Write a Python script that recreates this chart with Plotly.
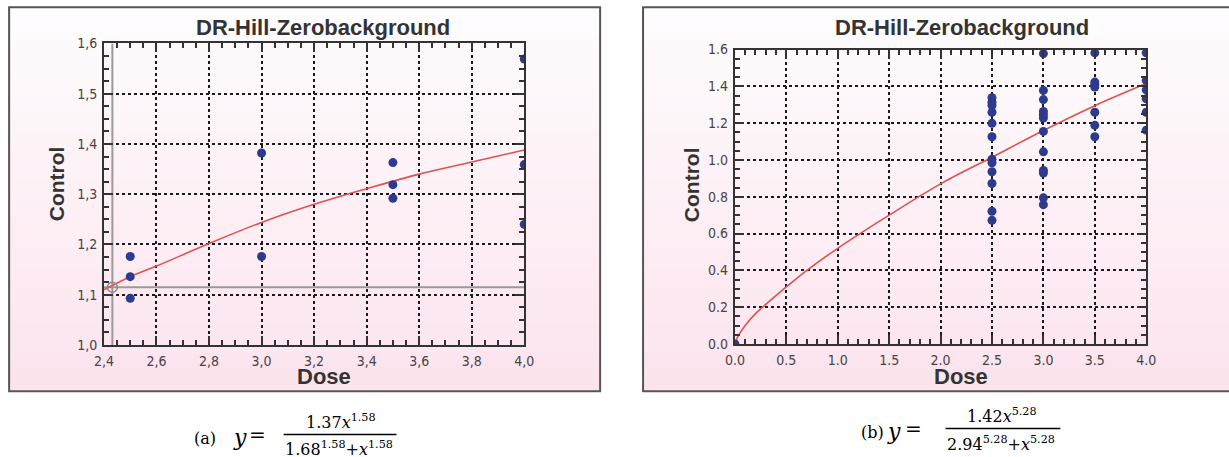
import plotly.graph_objects as go

# The photographed page region is a little larger than the window and is shrunk
# to 1229x457; positions below are given in final-picture pixels and mapped back.
PIC_W, PIC_H = 1229, 457
SX, SY = 0.9855, 0.961        # picture px per page px (measured)
BODY = 8                      # default body margin of the page
W = round(PIC_W / SX) - BODY  # figure size in page px
H = round(PIC_H / SY) - BODY
FS = 1 / 0.973                # font compensation

# ---------------- data ----------------
TITLE = "DR-Hill-Zerobackground"
X_LABEL = "Dose"
Y_LABEL = "Control"

# panel (a)
a_dose = [2.5, 2.5, 2.5, 3.0, 3.0, 3.5, 3.5, 3.5, 4.0, 4.0, 4.0]
a_control = [1.176, 1.136, 1.093, 1.382, 1.176, 1.363, 1.319, 1.292, 1.569, 1.359, 1.240]
a_fit_dose = [2.40, 2.50, 2.60, 2.80, 3.00, 3.20, 3.40, 3.60, 3.80, 4.00]
a_fit_control = [1.110, 1.136, 1.157, 1.202, 1.244, 1.280, 1.311, 1.340, 1.364, 1.388]
a_ref_dose = 2.432
a_ref_control = 1.115
a_xticks = [2.4, 2.6, 2.8, 3.0, 3.2, 3.4, 3.6, 3.8, 4.0]
a_xticktext = ["2,4", "2,6", "2,8", "3,0", "3,2", "3,4", "3,6", "3,8", "4,0"]
a_yticks = [1.0, 1.1, 1.2, 1.3, 1.4, 1.5, 1.6]
a_yticktext = ["1,0", "1,1", "1,2", "1,3", "1,4", "1,5", "1,6"]

# panel (b)
b_dose = ([0.0]
          + [2.5] * 12
          + [3.0] * 12
          + [3.5] * 7
          + [4.0] * 6)
b_control = ([0.0]
             + [1.338, 1.314, 1.296, 1.259, 1.199, 1.126, 1.004, 0.985, 0.936, 0.872, 0.721, 0.672]
             + [1.578, 1.378, 1.328, 1.263, 1.246, 1.228, 1.155, 1.044, 0.943, 0.929, 0.794, 0.757]
             + [1.582, 1.423, 1.409, 1.396, 1.259, 1.188, 1.126]
             + [1.582, 1.432, 1.381, 1.332, 1.259, 1.162])
b_fit_dose = [0.0, 0.02, 0.05, 0.10, 0.20, 0.30, 0.50, 0.70, 1.00, 1.50, 2.00, 2.50,
              3.00, 3.50, 4.00]
b_fit_control = [0.0, 0.03, 0.06, 0.10, 0.165, 0.215, 0.31, 0.40, 0.52, 0.70, 0.87, 1.015,
                 1.16, 1.295, 1.415]
b_xticks = [0.0, 0.5, 1.0, 1.5, 2.0, 2.5, 3.0, 3.5, 4.0]
b_xticktext = ["0.0", "0.5", "1.0", "1.5", "2.0", "2.5", "3.0", "3.5", "4.0"]
b_yticks = [0.0, 0.2, 0.4, 0.6, 0.8, 1.0, 1.2, 1.4, 1.6]
b_yticktext = ["0.0", "0.2", "0.4", "0.6", "0.8", "1.0", "1.2", "1.4", "1.6"]

# ---------------- styling ----------------
PT_COLOR = "#2c3a8f"
FIT_COLOR = "#e2504f"
TICK_FONT = dict(family="Liberation Sans Narrow, DejaVu Sans Condensed, Arial Narrow, sans-serif",
                 size=round(14 * FS), color="#444")
BOLD_FONT = "Liberation Sans, Arial, sans-serif"
SERIF = "DejaVu Serif, Liberation Serif, serif"


def px(x):
    """picture pixel x -> paper fraction"""
    return (x / SX - BODY) / W


def py(y):
    """picture pixel y (from top) -> paper fraction"""
    return 1 - (y / SY - BODY) / H


fig = go.Figure()

# panel (a) traces
fig.add_trace(go.Scatter(x=[a_ref_dose, a_ref_dose], y=[1.0, 1.6], mode="lines",
                         line=dict(color="#9a9a9a", width=2), xaxis="x", yaxis="y",
                         showlegend=False, hoverinfo="skip"))
fig.add_trace(go.Scatter(x=[2.4, 4.0], y=[a_ref_control, a_ref_control], mode="lines",
                         line=dict(color="#9a9a9a", width=2), xaxis="x", yaxis="y",
                         showlegend=False, hoverinfo="skip"))
fig.add_trace(go.Scatter(x=a_fit_dose, y=a_fit_control, mode="lines", line_shape="spline",
                         line=dict(color=FIT_COLOR, width=1.6), xaxis="x", yaxis="y",
                         showlegend=False))
fig.add_trace(go.Scatter(x=[a_ref_dose], y=[a_ref_control], mode="markers",
                         marker=dict(symbol="circle-open", size=10, color="#8a8a8a",
                                     line=dict(width=1.5)),
                         xaxis="x", yaxis="y", showlegend=False))
fig.add_trace(go.Scatter(x=a_dose, y=a_control, mode="markers",
                         marker=dict(color=PT_COLOR, size=9), xaxis="x", yaxis="y",
                         showlegend=False))

# panel (b) traces
fig.add_trace(go.Scatter(x=b_fit_dose, y=b_fit_control, mode="lines", line_shape="spline",
                         line=dict(color=FIT_COLOR, width=1.6, smoothing=1.0),
                         xaxis="x2", yaxis="y2", showlegend=False))
fig.add_trace(go.Scatter(x=b_dose, y=b_control, mode="markers",
                         marker=dict(color=PT_COLOR, size=9), xaxis="x2", yaxis="y2",
                         showlegend=False))

common = dict(showline=True, linecolor="#333", linewidth=2, mirror="ticks",
              ticks="inside", ticklen=9, tickwidth=1.5, tickcolor="#333",
              showgrid=True, gridcolor="#1a1a1a", griddash="dot", gridwidth=1.5,
              zeroline=False, tickfont=TICK_FONT, tickmode="array",
              ticklabelstandoff=2)


def minor(t0, dt):
    return dict(ticks="inside", ticklen=5, tickwidth=1.5, tickcolor="#333",
                tickmode="linear", tick0=t0, dtick=dt, showgrid=False)


fig.update_layout(
    width=W, height=H, margin=dict(l=0, r=0, t=0, b=0),
    paper_bgcolor="white", plot_bgcolor="rgba(0,0,0,0)",
    showlegend=False,
    xaxis=dict(domain=[px(102), px(523)], range=[2.4, 4.0], anchor="y",
               tickvals=a_xticks, ticktext=a_xticktext, minor=minor(2.4, 0.05), **common),
    yaxis=dict(domain=[py(343), py(43)], range=[1.0, 1.6], anchor="x",
               tickvals=a_yticks, ticktext=a_yticktext, minor=minor(1.0, 0.025), **common),
    xaxis2=dict(domain=[px(734), px(1146)], range=[0, 4.0], anchor="y2",
                tickvals=b_xticks, ticktext=b_xticktext, minor=minor(0, 0.1), **common),
    yaxis2=dict(domain=[py(342), py(49)], range=[0, 1.6], anchor="x2",
                tickvals=b_yticks, ticktext=b_yticktext, minor=minor(0, 0.05), **common),
)

# ---------------- panel backgrounds (vertical gradient) and frames ----------------
shapes = []
top_rgb = (254, 253, 254)
bot_rgb = (252, 227, 237)
frames = [(7, 599), (642, 1240)]
y_top, y_bot = 7, 389
N = 40
for (x0, x1) in frames:
    for i in range(N):
        t = i / (N - 1)
        c = tuple(round(top_rgb[k] + (bot_rgb[k] - top_rgb[k]) * t) for k in range(3))
        ya = y_top + (y_bot - y_top) * i / N
        yb = y_top + (y_bot - y_top) * (i + 1) / N + 0.5
        shapes.append(dict(type="rect", xref="paper", yref="paper", layer="below",
                           x0=px(x0), x1=min(px(x1), 1.0), y0=py(ya), y1=py(yb),
                           fillcolor="rgb(%d,%d,%d)" % c, line=dict(width=0)))
    shapes.append(dict(type="rect", xref="paper", yref="paper", layer="below",
                       x0=px(x0), x1=px(x1), y0=py(y_top), y1=py(y_bot),
                       fillcolor="rgba(0,0,0,0)", line=dict(color="#555", width=2)))

# fraction bars of the captions
shapes.append(dict(type="line", xref="paper", yref="paper", x0=px(282), x1=px(395),
                   y0=py(432), y1=py(432), line=dict(color="black", width=1.5)))
shapes.append(dict(type="line", xref="paper", yref="paper", x0=px(945), x1=px(1060),
                   y0=py(426), y1=py(426), line=dict(color="black", width=1.5)))
fig.update_layout(shapes=shapes)

# ---------------- text ----------------
ann = []


def add_text(text, x, y, size, family, color="#333", angle=0, xanchor="center"):
    ann.append(dict(text=text, x=px(x), y=py(y), xref="paper", yref="paper",
                    showarrow=False, xanchor=xanchor, yanchor="middle", textangle=angle,
                    font=dict(family=family, size=round(size * FS), color=color)))


for cx, lx, dx in [(321, 54, 322), (961, 690, 960)]:
    add_text("<b>%s</b>" % TITLE, cx, 27, 21, BOLD_FONT)
    add_text("<b>%s</b>" % Y_LABEL, lx, 183, 20, BOLD_FONT, angle=-90)
    add_text("<b>%s</b>" % X_LABEL, dx, 374, 21, BOLD_FONT)

# caption (a)
add_text("(a)", 203, 436, 16, SERIF, color="black")
add_text("<i>y</i>", 238, 435, 21, SERIF, color="black")
add_text("=", 256, 433, 19, SERIF, color="black")
add_text("1.37<i>x</i><sup>1.58</sup>", 339, 419, 16, SERIF, color="black")
add_text("1.68<sup>1.58</sup>+<i>x</i><sup>1.58</sup>", 337, 446, 16, SERIF, color="black")
# caption (b)
add_text("(b)", 872, 430, 16, SERIF, color="black")
add_text("<i>y</i>", 893, 429, 21, SERIF, color="black")
add_text("=", 913, 427, 19, SERIF, color="black")
add_text("1.42<i>x</i><sup>5.28</sup>", 1002, 413, 16, SERIF, color="black")
add_text("2.94<sup>5.28</sup>+<i>x</i><sup>5.28</sup>", 1001, 441, 16, SERIF, color="black")

fig.update_layout(annotations=ann)

fig.write_html("out.html")
